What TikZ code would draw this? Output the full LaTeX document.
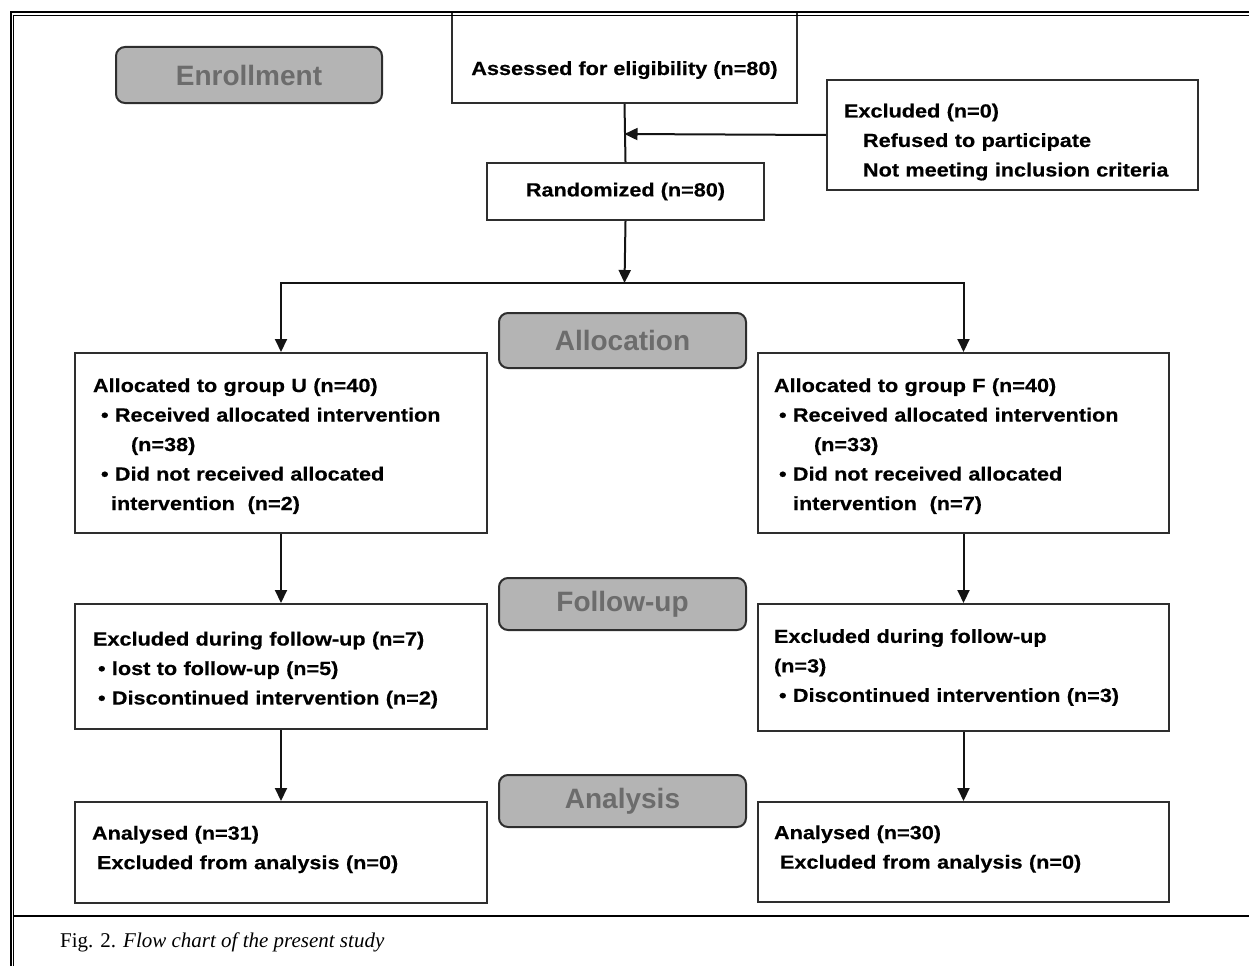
\documentclass[tikz,border=0pt]{standalone}
\usepackage{fontspec}
\usetikzlibrary{arrows.meta}
\newfontfamily\bxfont[FakeStretch=1.14,FakeBold=0.4]{Liberation Sans}
\newfontfamily\hdfont{Liberation Sans}
\newfontfamily\capfont{Liberation Serif}
\definecolor{hdfill}{HTML}{B4B4B4}
\definecolor{hdtext}{HTML}{6C6C6C}
\definecolor{boxline}{HTML}{2E2E2E}
\definecolor{arrline}{HTML}{141414}
\begin{document}
\begin{tikzpicture}[x=1pt,y=-1pt,
  box/.style={draw=boxline, line width=2pt, fill=white, anchor=north west, align=left,
    inner ysep=0pt, font=\bxfont\bfseries\fontsize{19}{29.5}\selectfont},
  cbox/.style={draw=boxline, line width=2pt, fill=white, anchor=north west, align=center,
    inner sep=0pt, font=\bxfont\bfseries\fontsize{19}{29.5}\selectfont},
  hdr/.style={draw=boxline, line width=2pt, fill=hdfill, rounded corners=9pt, anchor=north west,
    align=center, inner sep=0pt, text=hdtext, font=\hdfont\bfseries\fontsize{28}{32}\selectfont},
  arr/.style={-{Triangle[length=13pt,width=12pt]}, line width=2pt, draw=arrline},
  ln/.style={line width=2pt, draw=arrline}
]
\useasboundingbox (0,0) rectangle (1249,966);

% stage headers
\node[hdr, minimum width=266pt, minimum height=56pt] (henr) at (115,46) {Enrollment};
\node[hdr, minimum width=247pt, minimum height=55pt] (halloc) at (498,312) {Allocation};
\node[hdr, minimum width=247pt, minimum height=52pt] (hfu) at (498,577) {Follow-up};
\node[hdr, minimum width=247pt, minimum height=52pt] (han) at (498,774) {Analysis};

% enrollment
\node[cbox, anchor=base, minimum width=345pt, text height=63pt, text depth=28pt] (assess) at (624.5,75) {Assessed for eligibility (n=80)};
\node[box, inner xsep=17pt, text width=337pt, minimum height=110pt] (excl) at (826,79)
  {\rule{0pt}{28pt}Excluded (n=0)\\ \hspace*{19pt}Refused to participate\\ \hspace*{19pt}Not meeting inclusion criteria};
\node[cbox, minimum width=277pt, minimum height=57pt] (rand) at (486,162) {Randomized (n=80)};

% allocation
\node[box, inner xsep=18pt, text width=376pt, minimum height=180pt] (gu) at (74,352)
  {\rule{0pt}{20pt}Allocated to group U (n=40)\\
   \hspace*{8pt}• Received allocated intervention\\
   \hspace*{38pt}(n=38)\\
   \hspace*{8pt}• Did not received allocated\\
   \hspace*{18pt}intervention\ \ (n=2)};
\node[box, inner xsep=16pt, text width=379pt, minimum height=180pt] (gf) at (757,352)
  {\rule{0pt}{20pt}Allocated to group F (n=40)\\
   \hspace*{5pt}• Received allocated intervention\\
   \hspace*{40pt}(n=33)\\
   \hspace*{5pt}• Did not received allocated\\
   \hspace*{19pt}intervention\ \ (n=7)};

% follow-up
\node[box, inner xsep=18pt, text width=376pt, minimum height=125pt] (fu) at (74,603)
  {\rule{0pt}{21pt}Excluded during follow-up (n=7)\\
   \hspace*{5pt}• lost to follow-up (n=5)\\
   \hspace*{5pt}• Discontinued intervention (n=2)};
\node[box, inner xsep=16pt, text width=379pt, minimum height=127pt] (ff) at (757,603)
  {Excluded during follow-up\\
   (n=3)\\
   \hspace*{5pt}• Discontinued intervention (n=3)};

% analysis
\node[box, inner xsep=17pt, text width=378pt, minimum height=101pt] (au) at (74,801)
  {Analysed (n=31)\\ \hspace*{5pt}Excluded from analysis (n=0)\rule[-10pt]{0pt}{10pt}};
\node[box, inner xsep=16pt, text width=379pt, minimum height=100pt] (af) at (757,801)
  {Analysed (n=30)\\ \hspace*{6pt}Excluded from analysis (n=0)\rule[-10pt]{0pt}{10pt}};

% connectors
\coordinate (join) at (624.5,134);
\coordinate (split) at (624.5,283);
\draw[ln] (assess.south) -- (rand.north);
\draw[arr] (excl.west) -- (join);
\draw[arr] (rand.south) -- (split);
\draw[arr] (split) -| (gu.north);
\draw[arr] (split) -| (gf.north);
\draw[arr] (gu.south) -- (fu.north);
\draw[arr] (gf.south) -- (ff.north);
\draw[arr] (fu.south) -- (au.north);
\draw[arr] (ff.south) -- (af.north);

% frame
\draw[line width=2.4pt] (11,966) -- (11,11.8) -- (1249,11.8);
\draw[line width=1.1pt] (13.9,966) -- (13.9,15.3) -- (1249,15.3);
\draw[line width=2.2pt] (13.9,915.8) -- (1249,915.8);

% caption
\node[anchor=base west, inner sep=0pt, font=\capfont\fontsize{21}{25}\selectfont] (cap) at (60,947)
  {Fig. 2. \textit{Flow chart of the present study}};
\end{tikzpicture}
\end{document}
